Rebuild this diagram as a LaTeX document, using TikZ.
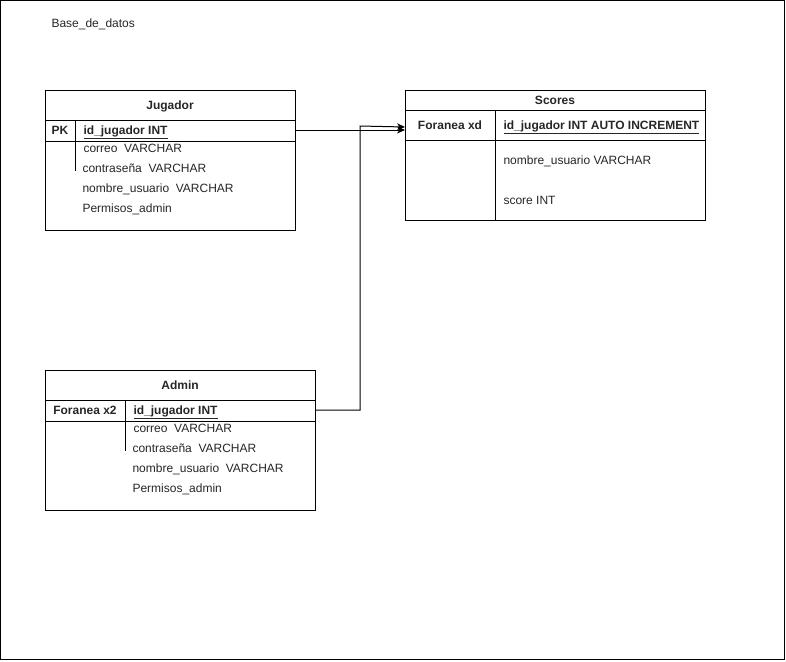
\documentclass[tikz,border=0pt]{standalone}
\usepackage{fontspec}
\setmainfont{Liberation Sans}
\usetikzlibrary{arrows.meta}
\begin{document}
\begin{tikzpicture}[x=1pt,y=-1pt,line width=1pt,
  txt/.style={font=\fontsize{12}{14}\selectfont, inner sep=0pt, text height=8.5pt, text depth=2.5pt, text=black!85, yshift=-1.5pt},
  lbl/.style={txt, anchor=west},
  hdr/.style={txt, font=\fontsize{12}{14}\selectfont\bfseries},
  tbl/.style={draw, anchor=north west, inner sep=0pt},
  conn/.style={-{Stealth[length=8pt,width=7pt,inset=2.5pt]}, line width=1pt}]
\useasboundingbox (0,0) rectangle (786,661);
\draw[line width=1.2pt] (0.6,0.6) rectangle (784.6,659.6);
\node[lbl] (title) at (51,23) {Base\_de\_datos};

% Jugador
\node[tbl, minimum width=250pt, minimum height=140pt] (jug) at (45,90) {};
\draw (45,120) -- (295,120);
\draw (45,141) -- (295,141);
\draw (75,120) -- (75,171);
\node[hdr] (jugt) at (170,105) {Jugador};
\node[hdr] (jugpk) at (60,130) {PK};
\node[hdr, anchor=west] (jugid) at (83,130) {\underline{id\_jugador INT}};
\node[lbl] (jug1) at (83,148) {correo\ \ VARCHAR};
\node[lbl] (jug2) at (82,168) {contraseña\ \ VARCHAR};
\node[lbl] (jug3) at (82,188) {nombre\_usuario\ \ VARCHAR};
\node[lbl] (jug4) at (82,208) {Permisos\_admin};

% Scores
\node[tbl, minimum width=300pt, minimum height=130pt] (sco) at (405,90) {};
\draw (405,110) -- (705,110);
\draw (405,140) -- (705,140);
\draw (495,110) -- (495,220);
\node[hdr] (scot) at (555,100) {Scores};
\node[hdr] (scofk) at (450,125) {Foranea xd};
\node[hdr, anchor=west] (scoid) at (503,125) {\underline{id\_jugador INT AUTO INCREMENT}};
\node[lbl] (sco1) at (503,160) {nombre\_usuario VARCHAR};
\node[lbl] (sco2) at (503,200) {score INT};

% Admin
\node[tbl, minimum width=270pt, minimum height=140pt] (adm) at (45,370) {};
\draw (45,400) -- (315,400);
\draw (45,421) -- (315,421);
\draw (125,400) -- (125,451);
\node[hdr] (admt) at (180,385) {Admin};
\node[hdr] (admfk) at (85,410) {Foranea x2};
\node[hdr, anchor=west] (admid) at (133,410) {\underline{id\_jugador INT}};
\node[lbl] (adm1) at (133,428) {correo\ \ VARCHAR};
\node[lbl] (adm2) at (132,448) {contraseña\ \ VARCHAR};
\node[lbl] (adm3) at (132,468) {nombre\_usuario\ \ VARCHAR};
\node[lbl] (adm4) at (132,488) {Permisos\_admin};

% connectors
\coordinate (jout) at (295,130);
\coordinate (sin1) at (405,130);
\coordinate (aout) at (315,410);
\coordinate (abend1) at (360,410);
\coordinate (abend2) at (360,126);
\coordinate (sin2) at (405,127);
\draw[conn] (jout) -- (sin1);
\draw[conn] (aout) -- (abend1) -- (abend2) -- (sin2);
\end{tikzpicture}
\end{document}
